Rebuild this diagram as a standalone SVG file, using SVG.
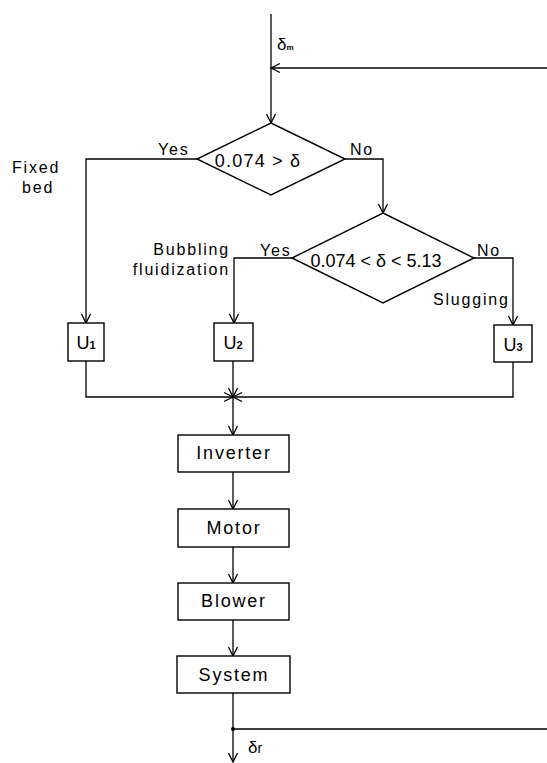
<svg xmlns="http://www.w3.org/2000/svg" width="547" height="763" viewBox="0 0 547 763">
<style>
.ln{fill:none;stroke:#000;stroke-width:1.3}
.bx{fill:#fff;stroke:#000;stroke-width:1.4}
.t{font-family:"Liberation Sans",Arial,sans-serif;fill:#000}
.lab{font-size:16px;letter-spacing:1.8px}
.box{font-size:18px;letter-spacing:1.8px}
.cond{font-size:18px}
</style>
<defs>
<marker id="ah" markerUnits="userSpaceOnUse" markerWidth="12" markerHeight="12" viewBox="-10 -6 12 12" refX="0" refY="0" orient="auto">
<path d="M-9,-4.5 L0,0 L-9,4.5" fill="none" stroke="#000" stroke-width="1.3"/>
</marker>
</defs>
<rect width="547" height="763" fill="#fff"/>
<g id="connectors">
<path class="ln" d="M271,14 V123" marker-end="url(#ah)"/>
<path class="ln" d="M547,68 H271" marker-end="url(#ah)"/>
<path class="ln" d="M197,159 H86 V323" marker-end="url(#ah)"/>
<path class="ln" d="M345,159 H383 V213" marker-end="url(#ah)"/>
<path class="ln" d="M292,258 H234 V323" marker-end="url(#ah)"/>
<path class="ln" d="M474,258 H513 V325" marker-end="url(#ah)"/>
<path class="ln" d="M86,361 V397 H233" marker-end="url(#ah)"/>
<path class="ln" d="M513,362 V397 H233" marker-end="url(#ah)"/>
<path class="ln" d="M233,361 V397" marker-end="url(#ah)"/>
<path class="ln" d="M233,397 V435" marker-end="url(#ah)"/>
<path class="ln" d="M233,472 V509" marker-end="url(#ah)"/>
<path class="ln" d="M233,547 V583" marker-end="url(#ah)"/>
<path class="ln" d="M233,620 V656" marker-end="url(#ah)"/>
<path class="ln" d="M233,693 V762" marker-end="url(#ah)"/>
<path class="ln" d="M233,729 H547"/>
<circle cx="233" cy="729" r="2" fill="#000"/>
<text class="t" x="277" y="50" font-size="17">δ<tspan font-size="8" font-weight="bold">m</tspan></text>
<text class="t" x="248" y="753" font-size="17">δ<tspan font-size="14">r</tspan></text>
<text class="t lab" x="158" y="155">Yes</text>
<text class="t lab" x="350" y="155">No</text>
<text class="t lab" x="260" y="256">Yes</text>
<text class="t lab" x="477" y="256">No</text>
<text class="t lab" x="12" y="173" letter-spacing="3">Fixed</text>
<text class="t lab" x="22" y="193" letter-spacing="3">bed</text>
<text class="t lab" x="230" y="255" text-anchor="end">Bubbling</text>
<text class="t lab" x="230" y="275" text-anchor="end">fluidization</text>
<text class="t lab" x="433" y="305">Slugging</text>
</g>
<g id="d1">
<polygon class="bx" points="271,123 345,159 271,195 197,159"/>
<text class="t cond" x="258" y="167" text-anchor="middle" letter-spacing="1.2">0.074 &gt; δ</text>
</g>
<g id="d2">
<polygon class="bx" points="383,213 474,258 383,303 292,258"/>
<text class="t cond" x="376" y="267" text-anchor="middle">0.074 &lt; δ &lt; 5.13</text>
</g>
<g id="u1">
<rect class="bx" x="68" y="323" width="36" height="38"/>
<text class="t" x="86" y="349" font-size="18" text-anchor="middle">U<tspan font-size="11" font-weight="bold">1</tspan></text>
</g>
<g id="u2">
<rect class="bx" x="214" y="323" width="39" height="38"/>
<text class="t" x="233" y="349" font-size="18" text-anchor="middle">U<tspan font-size="11" font-weight="bold">2</tspan></text>
</g>
<g id="u3">
<rect class="bx" x="494" y="325" width="38" height="37"/>
<text class="t" x="513" y="351" font-size="18" text-anchor="middle">U<tspan font-size="11" font-weight="bold">3</tspan></text>
</g>
<g id="inverter">
<rect class="bx" x="178" y="435" width="111" height="37"/>
<text class="t box" x="234" y="459" text-anchor="middle">Inverter</text>
</g>
<g id="motor">
<rect class="bx" x="178" y="509" width="111" height="38"/>
<text class="t box" x="234" y="534" text-anchor="middle">Motor</text>
</g>
<g id="blower">
<rect class="bx" x="178" y="583" width="111" height="37"/>
<text class="t box" x="234" y="607" text-anchor="middle">Blower</text>
</g>
<g id="system">
<rect class="bx" x="177" y="656" width="113" height="37"/>
<text class="t box" x="234" y="681" text-anchor="middle">System</text>
</g>
</svg>
